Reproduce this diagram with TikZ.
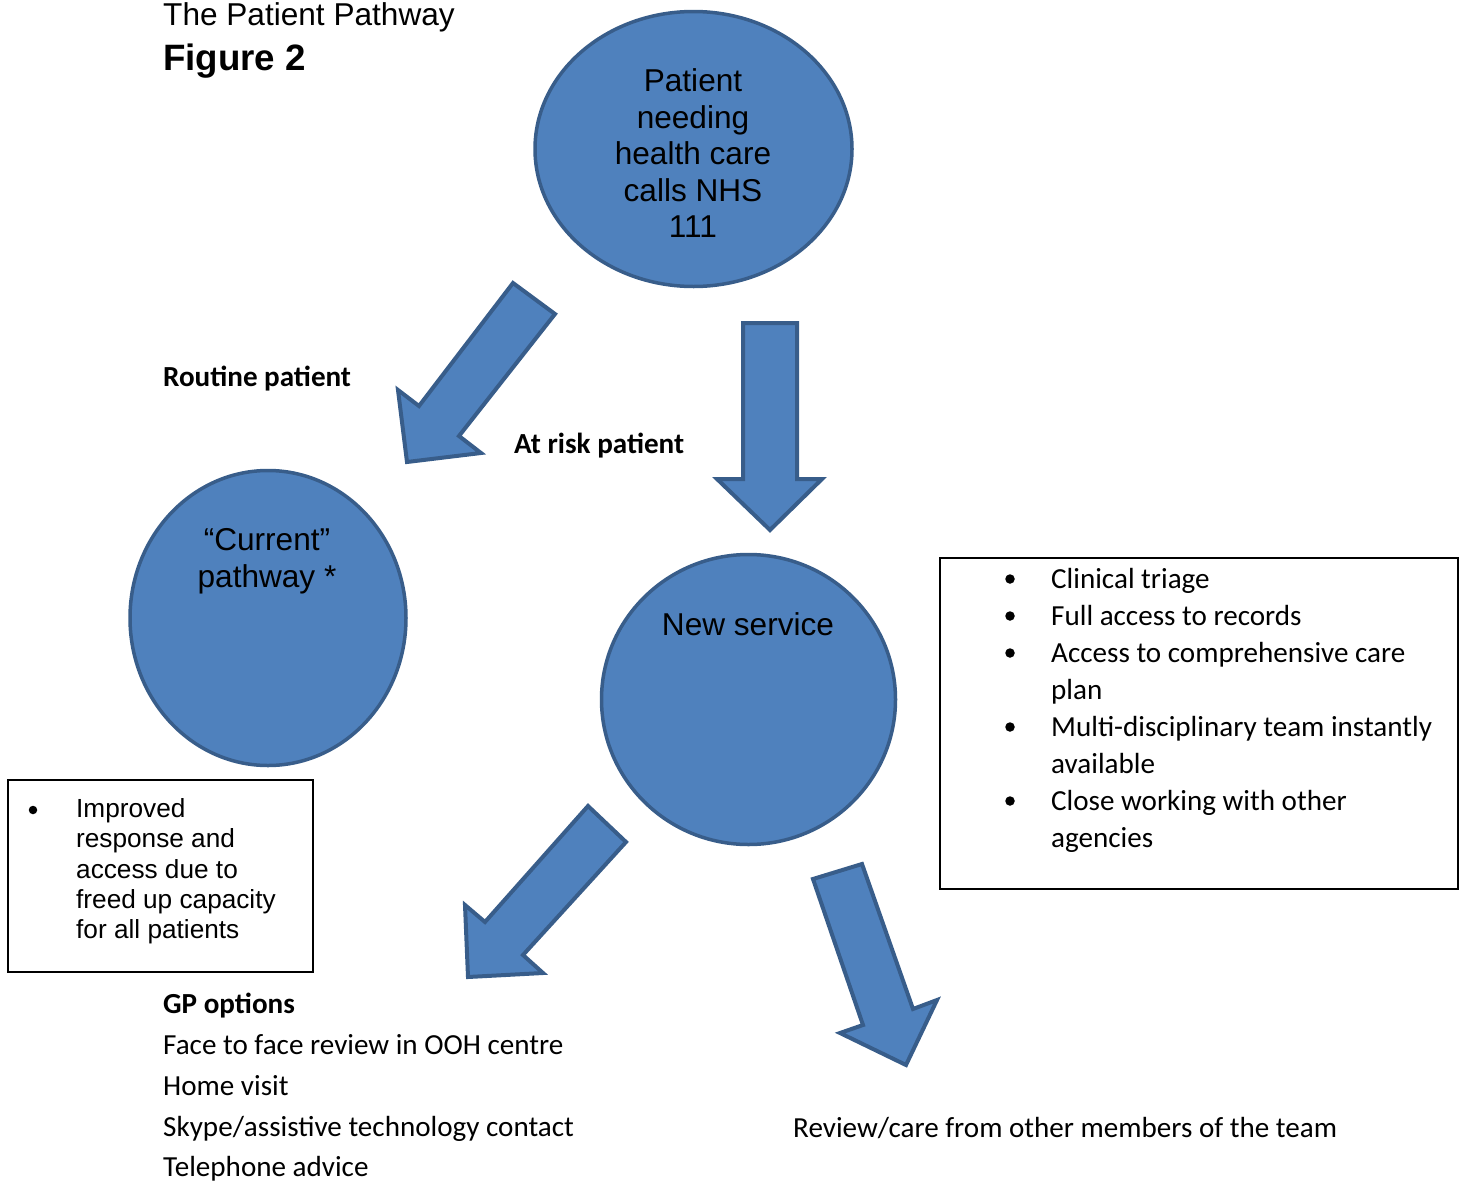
\documentclass[tikz,border=0pt]{standalone}
\usepackage{fontspec}
\setmainfont{Liberation Sans}
\newfontfamily\calibrifont{Carlito}
\usetikzlibrary{shapes.geometric}
\definecolor{bubblefill}{HTML}{4F81BD}
\definecolor{bubbleline}{HTML}{385D8A}

\begin{document}
\begin{tikzpicture}[x=1pt,y=-1pt,
  bubble/.style={ellipse, draw=bubbleline, fill=bubblefill, line width=3.5pt, inner sep=0pt},
  blockarrow/.style={draw=bubbleline, fill=bubblefill, line width=4pt},
  infobox/.style={draw=black, line width=2pt},
  dot/.style={circle, fill=black, inner sep=0pt, minimum size=#1},
  txt/.style={inner sep=0pt, anchor=base west},
  ctxt/.style={inner sep=0pt, anchor=base},
  arialtwelve/.style={font=\fontsize{31.6}{37}\selectfont},
  arialten/.style={font=\fontsize{26.2}{30}\selectfont},
  calibrieleven/.style={font=\calibrifont\fontsize{29.1}{35}\selectfont},
  calibribold/.style={font=\calibrifont\bfseries\fontsize{29.1}{35}\selectfont},
]
\useasboundingbox (0,0) rectangle (1462,1181);

% heading
\node[txt, arialtwelve] (title) at (163,25) {The Patient Pathway};
\node[txt, font=\bfseries\fontsize{36.7}{42}\selectfont] (figno) at (163,70) {Figure 2};

% bubbles
\node[bubble, minimum width=317pt, minimum height=275pt] (caller) at (693.5,149) {};
\node[bubble, minimum width=276pt, minimum height=295pt] (current) at (268,618) {};
\node[bubble, minimum width=294pt, minimum height=290pt] (newsvc) at (748.5,699.5) {};

% bubble texts
\foreach \yy/\tt [count=\i] in {91/Patient, 128/needing, 164/health care, 201/calls NHS, 237/111}
  \node[ctxt, arialtwelve] (callertext\i) at (693,\yy) {\tt};
\node[ctxt, arialtwelve] (currenttext1) at (267,550) {“Current”};
\node[ctxt, arialtwelve] (currenttext2) at (267,587) {pathway *};
\node[ctxt, arialtwelve] (newsvctext) at (748,635) {New service};

% block arrows
\draw[blockarrow] (513,283) -- (555,314) -- (459,436) -- (481,453) -- (407,462)
  -- (398,390) -- (419,406) -- cycle;
\draw[blockarrow] (743,323) -- (797,323) -- (797,479) -- (822,479) -- (770,530)
  -- (717,479) -- (743,479) -- cycle;
\draw[blockarrow] (588,806) -- (626,842) -- (523,955) -- (543,973) -- (468,977)
  -- (465,905) -- (485,922) -- cycle;
\draw[blockarrow] (813,879) -- (862,864) -- (913,1009) -- (937,1000) -- (906,1065)
  -- (840,1033) -- (863,1025) -- cycle;

% arrow labels
\node[txt, calibribold] (routine) at (163,386) {Routine patient};
\node[txt, calibribold] (atrisk) at (514,453) {At risk patient};

% left box
\draw[infobox] (8,780) rectangle (313,972);
\node[dot=8.5pt] (lbullet) at (33,810) {};
\foreach \yy/\tt [count=\i] in {817/Improved, 847/response and, 878/access due to,
    908/freed up capacity, 938/for all patients}
  \node[txt, arialten] (lefttext\i) at (76,\yy) {\tt};

% right box
\draw[infobox] (940,558) rectangle (1458,889);
\foreach \yy [count=\i] in {588,625,662,736,810}
  \node[dot=9.5pt] (rbullet\i) at (1010,\yy-9) {};
\foreach \yy/\tt [count=\i] in {588/Clinical triage, 625/Full access to records,
    662/Access to comprehensive care, 699/plan, 736/Multi-disciplinary team instantly,
    773/available, 810/Close working with other, 847/agencies}
  \node[txt, calibrieleven] (righttext\i) at (1051,\yy) {\tt};

% GP options
\node[txt, calibribold] (gphead) at (163,1013) {GP options};
\foreach \yy/\tt [count=\i] in {1054/Face to face review in OOH centre, 1095/Home visit,
    1136/Skype\slash assistive technology contact, 1176/Telephone advice}
  \node[txt, calibrieleven] (gp\i) at (163,\yy) {\tt};

% review
\node[txt, calibrieleven] (review) at (793,1137) {Review/care from other members of the team};
\end{tikzpicture}
\end{document}
